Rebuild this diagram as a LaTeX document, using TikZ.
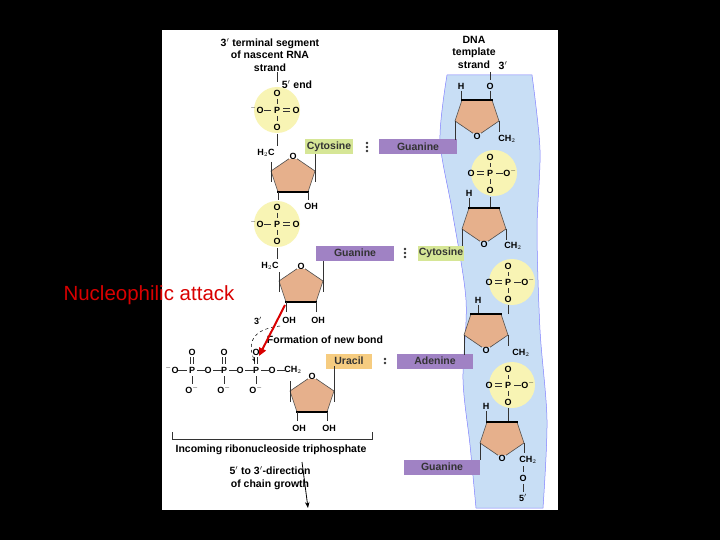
\documentclass[tikz,border=0pt]{standalone}
\usepackage{fontspec}
\setsansfont{Liberation Sans}
\usetikzlibrary{arrows.meta}
\definecolor{sugarfill}{RGB}{230,176,140}
\definecolor{phosfill}{RGB}{248,244,180}
\definecolor{purplebox}{RGB}{160,130,196}
\definecolor{greenbox}{RGB}{214,230,150}
\definecolor{orangebox}{RGB}{246,204,128}
\definecolor{bandfill}{RGB}{200,222,245}
\tikzset{
  atom/.style={font=\sffamily\bfseries\fontsize{9}{10}\selectfont, inner sep=0.3pt},
  lbl/.style={font=\sffamily\bfseries\fontsize{10.5}{12.5}\selectfont, inner sep=0pt, align=center},
  base/.style={lbl, minimum height=15pt, text=black!80},
  bond/.style={black!80, line width=0.6pt},
  ring/.style={draw=black!70, fill=sugarfill, line width=0.6pt},
  dot/.style={fill=black!80},
}
% sugar ring, oxygen on top
\newcommand{\sugarup}[2]{%
  \filldraw[ring] (#1,#2-19) -- (#1+22,#2-4) -- (#1+15,#2+17) -- (#1-15,#2+17) -- (#1-22,#2-4) -- cycle;
  \draw[line width=2.2pt] (#1-16,#2+17) -- (#1+16,#2+17);
  \node[atom, fill=white] at (#1,#2-19) {O};}
% sugar ring, oxygen below
\newcommand{\sugardown}[2]{%
  \filldraw[ring] (#1,#2+19) -- (#1+22,#2+4) -- (#1+15,#2-17) -- (#1-15,#2-17) -- (#1-22,#2+4) -- cycle;
  \draw[line width=2.2pt] (#1-16,#2-17) -- (#1+16,#2-17);
  \node[atom, fill=bandfill] at (#1,#2+19) {O};}
% phosphate, RNA side
\newcommand{\phosrna}[2]{%
  \fill[phosfill] (#1,#2) circle (23);
  \node[atom] at (#1,#2-17) {O}; \node[atom] at (#1,#2) {P}; \node[atom] at (#1,#2+17) {O};
  \node[atom] at (#1-20,#2) {$^{-}$O}; \node[atom] at (#1+19,#2) {O};
  \draw[bond] (#1,#2-11) -- (#1,#2-6) (#1,#2+6) -- (#1,#2+11) (#1-13,#2) -- (#1-6,#2);
  \draw[bond] (#1+6,#2-1.3) -- (#1+13,#2-1.3) (#1+6,#2+1.3) -- (#1+13,#2+1.3);}
% phosphate, DNA side
\newcommand{\phosdna}[2]{%
  \fill[phosfill] (#1,#2) circle (23);
  \node[atom] at (#1-4,#2-16) {O}; \node[atom] at (#1-4,#2) {P}; \node[atom] at (#1-4,#2+17) {O};
  \node[atom] at (#1-23,#2) {O}; \node[atom] at (#1+16,#2) {O$^{-}$};
  \draw[bond] (#1-4,#2-10) -- (#1-4,#2-6) (#1-4,#2+6) -- (#1-4,#2+11) (#1+2,#2) -- (#1+9,#2);
  \draw[bond] (#1-17,#2-1.3) -- (#1-10,#2-1.3) (#1-17,#2+1.3) -- (#1-10,#2+1.3);}
% pairing dots
\newcommand{\pairdots}[3]{%
  \foreach \k in {1,...,#3} \fill[dot] (#1,#2-4*#3/2-2+4*\k) circle (1.3);}

\begin{document}
\begin{tikzpicture}[x=1pt, y=-1pt]
  \useasboundingbox (0,0) rectangle (720,540);
  \fill[black] (0,0) rectangle (720,540);
  \fill[white] (162,30) rectangle (558,510);

  % DNA backbone band
  \filldraw[fill=bandfill, draw=blue!50, line width=0.5pt]
    plot[smooth] coordinates {(447,75) (440,140) (452,210) (466,300) (463,380) (470,445) (476,508)}
    -- plot[smooth] coordinates {(543,508) (547,420) (540,330) (537,230) (540,150) (532,75)} -- cycle;

  % RNA strand, top
  \node[lbl] (rnahead) at (270,55) {3$'$ terminal segment\\of nascent RNA\\strand};
  \node[lbl] (fiveend) at (297,85) {5$'$ end};
  \draw[bond] (277,72) -- (277,82);
  \phosrna{277}{110}
  \node[atom] (hc1) at (266,153) {H$_2$C};
  \draw[bond] (277,134) -- (277,146);
  \sugarup{293}{175}
  \draw[bond] (271,162) -- (271,182) (315,150) -- (315,182);
  \draw[bond] (278,192) -- (278,200) (308,192) -- (308,200);
  \node[atom] (ohA) at (311,206) {OH};
  \phosrna{277}{224}
  \node[atom] (hc2) at (270,266) {H$_2$C};
  \draw[bond] (277,248) -- (277,259);
  \sugarup{301}{285}
  \draw[bond] (279,272) -- (279,292) (323,255) -- (323,292);
  \draw[bond] (286,302) -- (286,312) (316,302) -- (316,312);
  \node[atom] (oh3) at (289,320) {OH};
  \node[atom] (oh2) at (318,320) {OH};
  \node[atom] (prime3) at (258,321) {3$'$};

  % base pairs
  \node[base, fill=greenbox, minimum width=48pt] (cyt1) at (329,147) {Cytosine};
  \node[base, fill=purplebox, minimum width=78pt] (gua1) at (418,147) {Guanine};
  \pairdots{367}{147}{3}
  \node[base, fill=purplebox, minimum width=78pt] (gua2) at (355,253) {Guanine};
  \node[base, fill=greenbox, minimum width=46pt] (cyt2) at (441,253) {Cytosine};
  \pairdots{405}{253}{3}
  \node[base, fill=orangebox, minimum width=46pt] (ura) at (349,361) {Uracil};
  \node[base, fill=purplebox, minimum width=76pt] (ade) at (435,361) {Adenine};
  \pairdots{385}{361}{2}
  \node[base, fill=purplebox, minimum width=76pt] (gua3) at (442,467) {Guanine};

  % incoming triphosphate
  \node[lbl] (newbond) at (325,340) {Formation of new bond};
  \foreach \px/\sym in {172/$^{-}$O, 192/P, 208/O, 224/P, 240/O, 256/P, 272/O}
    \node[atom] at (\px,370) {\sym};
  \node[atom] (ch2in) at (293,370) {CH$_2$};
  \foreach \px in {192,224,256} {
    \node[atom] at (\px,352) {O};
    \node[atom] at (\px,390) {O$^{-}$};
    \draw[bond] (\px-1.3,357) -- (\px-1.3,364) (\px+1.3,357) -- (\px+1.3,364);
    \draw[bond] (\px,376) -- (\px,384);
  }
  \foreach \px in {178,197,213,229,245,261,277}
    \draw[bond] (\px,370) -- (\px+9,370);
  \sugarup{312}{395}
  \draw[bond] (290,381) -- (290,402) (334,366) -- (334,402);
  \draw[bond] (297,412) -- (297,421) (327,412) -- (327,421);
  \node[atom] (oh4) at (299,428) {OH};
  \node[atom] (oh5) at (329,428) {OH};
  \draw[dashed, -{Stealth[length=4pt]}, line width=0.5pt] (280,326) .. controls (245,330) and (250,350) .. (255,362);
  \draw[bond] (172,432) -- (172,439) -- (372,439) -- (372,432);
  \node[lbl] (incoming) at (271,450) {Incoming ribonucleoside triphosphate};
  \node[lbl] (growth) at (270,478) {5$'$ to 3$'$-direction\\of chain growth};
  \draw[-{Stealth[length=6pt]}, line width=0.8pt] (302,462) -- (308,508);

  % DNA template strand
  \node[lbl] (dnahead) at (474,52) {DNA\\template\\strand};
  \node[lbl] (dna3) at (503,66) {3$'$};
  \node[atom] (h1) at (461,86) {H};
  \node[atom] (o1) at (490,86) {O};
  \draw[bond] (490,72) -- (490,80) (461,91) -- (461,100) (490,91) -- (490,100);
  \sugardown{477}{117}
  \draw[bond] (455,121) -- (455,140) (499,121) -- (499,132);
  \node[atom] (c1) at (507,139) {CH$_2$};
  \phosdna{494}{173}
  \node[atom] (h2) at (469,193) {H};
  \draw[bond] (469,198) -- (469,207) (490,197) -- (490,207);
  \sugardown{484}{225}
  \draw[bond] (462,229) -- (462,246) (506,229) -- (506,240);
  \node[atom] (c2) at (513,246) {CH$_2$};
  \phosdna{512}{282}
  \node[atom] (h3) at (478,300) {H};
  \draw[bond] (478,305) -- (478,314) (508,305) -- (508,314);
  \sugardown{486}{331}
  \draw[bond] (464,335) -- (464,355) (508,335) -- (508,346);
  \node[atom] (c3) at (521,353) {CH$_2$};
  \phosdna{512}{385}
  \node[atom] (h4) at (486,406) {H};
  \draw[bond] (486,411) -- (486,421) (508,408) -- (508,421);
  \sugardown{502}{439}
  \draw[bond] (480,443) -- (480,460) (524,443) -- (524,453);
  \node[atom] (c4) at (528,460) {CH$_2$};
  \node[atom] (o5) at (523,478) {O};
  \node[atom] (dna5) at (523,498) {5$'$};
  \draw[bond] (523,466) -- (523,472) (523,484) -- (523,492);

  % nucleophilic attack
  \node[font=\sffamily\fontsize{20.5}{22}\selectfont, text=red!85!black, inner sep=0pt] (attack) at (149,295) {Nucleophilic attack};
  \draw[red!85!black, line width=2pt, -{Triangle[length=8pt, width=7pt]}] (285,305) -- (259,356);
\end{tikzpicture}
\end{document}
